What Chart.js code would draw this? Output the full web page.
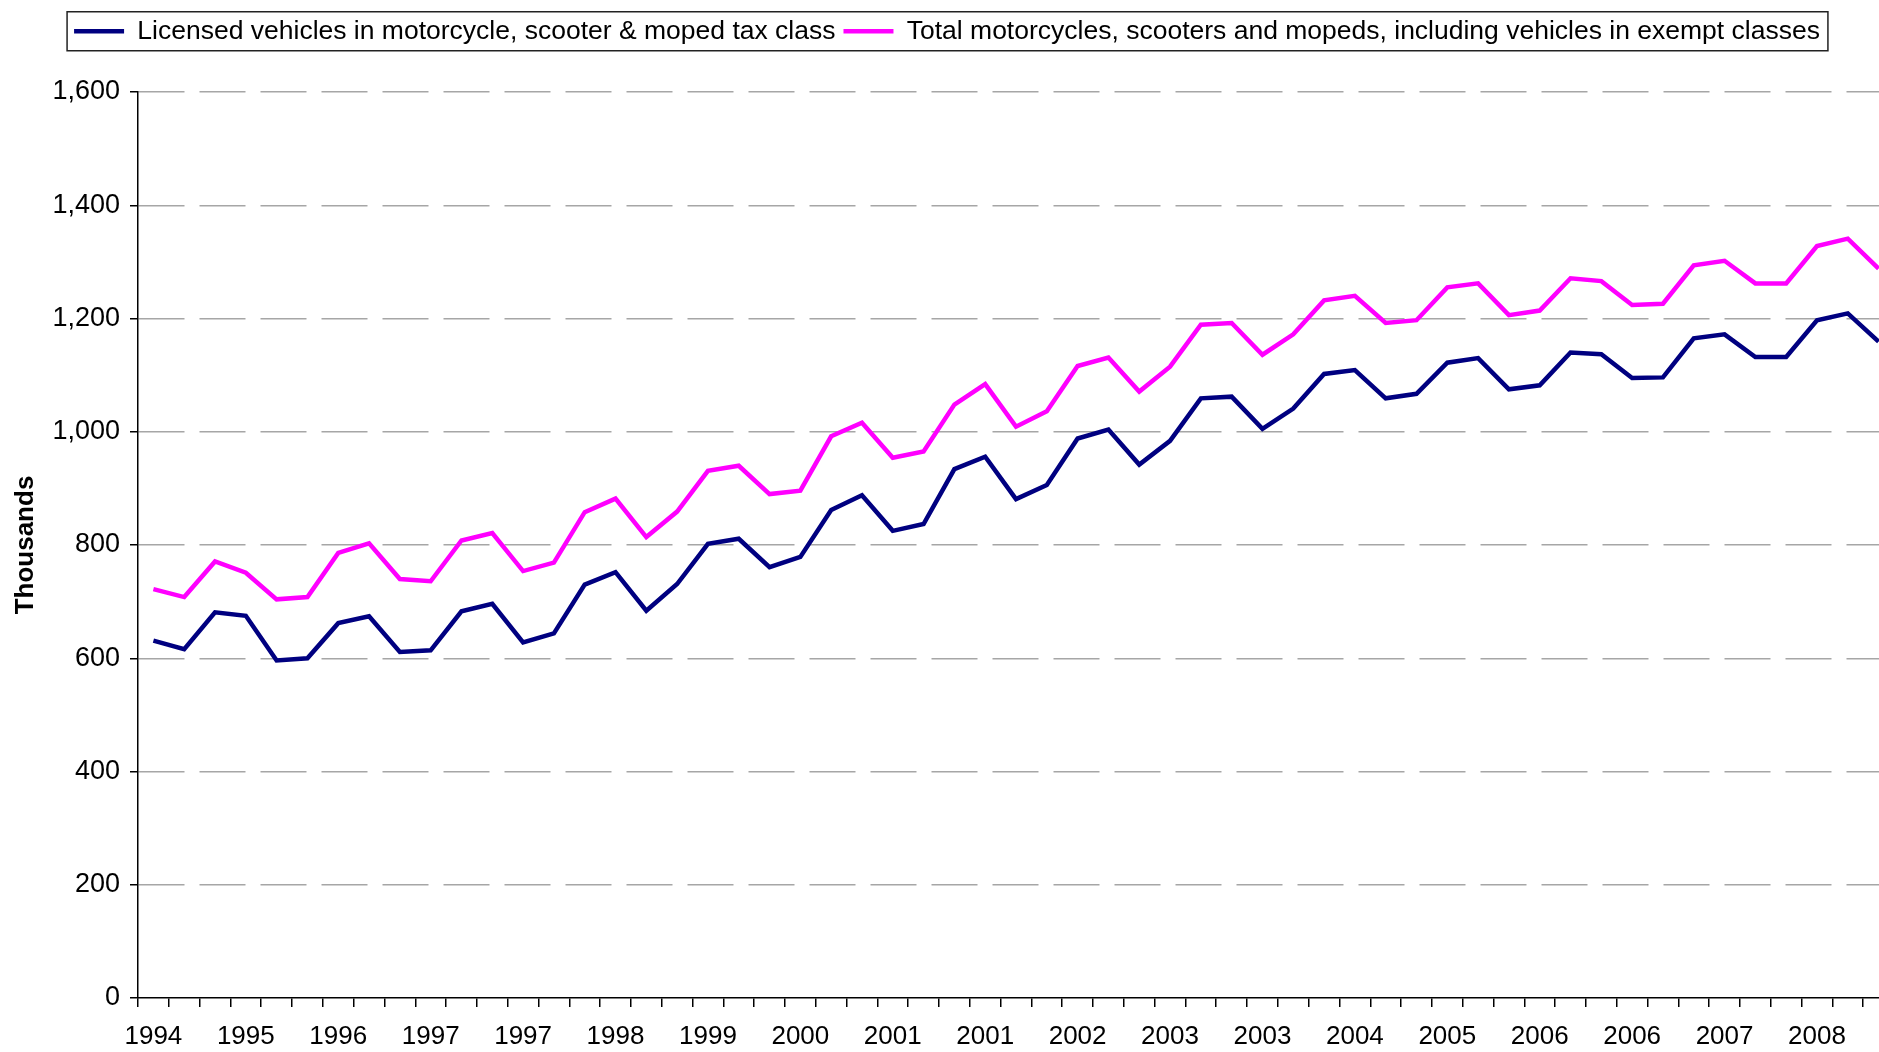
<!DOCTYPE html>
<html>
<head>
<meta charset="utf-8">
<script src="https://cdn.jsdelivr.net/npm/chart.js@4.4.0/dist/chart.umd.min.js"></script>
<style>
  html, body { margin: 0; padding: 0; background: #fff; overflow: hidden; }
  #wrap { position: relative; width: 1894px; height: 1052px; }
</style>
</head>
<body>
<div id="wrap"><canvas id="chart1"></canvas></div>
<script>
// year labels, one every third quarter
const tickLabels = ['1994','1995','1996','1997','1997','1998','1999','2000','2001','2001',
  '2002','2003','2003','2004','2005','2006','2006','2007','2008'];
const categories = tickLabels.flatMap(y => [y, '', '']);

// thousands of vehicles
const licensed = [631,616,681,675,596,600,662,674,611,614,683,696,628,644,
  730,752,684,731,802,811,761,779,862,888,825,837,934,956,881,
  906,988,1004,942,984,1059,1062,1005,1041,1102,1109,1059,1067,1122,
  1130,1075,1082,1140,1137,1095,1096,1165,1172,1132,1132,1197,1209,1159];
const totalIncExempt = [722,708,771,751,704,708,786,803,740,736,808,821,754,769,
  858,882,814,859,931,940,890,896,992,1016,954,965,1048,1084,1009,
  1036,1116,1131,1071,1115,1189,1192,1136,1172,1232,1240,1192,1197,1255,
  1262,1206,1214,1271,1266,1224,1226,1294,1302,1262,1262,1328,1341,1288];

const FONT = 'Liberation Sans, Arial, sans-serif';

// frame round the legend row, and extra room under it
const legendBox = {
  id: 'legendBox',
  beforeLayout(chart) {
    const lg = chart.legend;
    if (lg && !lg._tall) {
      const fit = lg.fit;
      lg.fit = function () { fit.call(this); this.height = 82; };
      lg._tall = true;
    }
  },
  afterDraw(chart) {
    const boxes = chart.legend.legendHitBoxes;
    if (!boxes || !boxes.length) return;
    const left = Math.min(...boxes.map(b => b.left)) - 7;
    const right = Math.max(...boxes.map(b => b.left + b.width)) + 8;
    const mid = boxes[0].top + boxes[0].height / 2;
    const ctx = chart.ctx;
    ctx.save();
    ctx.strokeStyle = '#222';
    ctx.lineWidth = 1.5;
    ctx.strokeRect(left, mid - 19.5, right - left, 39);
    ctx.restore();
  }
};

const ctx = document.getElementById('chart1').getContext('2d');
const MotoGraph = new Chart(ctx, {
  type: 'line',
  data: {
    labels: categories,
    datasets: [
      {
        label: 'Licensed vehicles in motorcycle, scooter & moped tax class',
        data: licensed,
        borderColor: '#000080',
        backgroundColor: '#000080',
        borderWidth: 4.5,
        pointRadius: 0,
        tension: 0,
        fill: false
      },
      {
        label: 'Total motorcycles, scooters and mopeds, including vehicles in exempt classes',
        data: totalIncExempt,
        borderColor: '#ff00ff',
        backgroundColor: '#ff00ff',
        borderWidth: 4.5,
        pointRadius: 0,
        tension: 0,
        fill: false
      }
    ]
  },
  options: {
    responsive: true,
    maintainAspectRatio: false,
    animation: false,
    layout: { padding: { top: 10, left: 0, right: 0, bottom: 0 } },
    plugins: {
      legend: {
        position: 'top',
        labels: {
          usePointStyle: true,
          pointStyle: 'line',
          pointStyleWidth: 50,
          color: '#000',
          font: { family: FONT, size: 26.5 },
          padding: 8
        }
      },
      tooltip: { enabled: false }
    },
    scales: {
      x: {
        offset: true,
        grid: {
          offset: true,
          drawOnChartArea: false,
          drawTicks: true,
          tickLength: 9,
          tickColor: '#000',
          lineWidth: 1.5
        },
        border: { color: '#000', width: 1.5 },
        ticks: {
          autoSkip: false,
          maxRotation: 0,
          color: '#000',
          font: { family: FONT, size: 26 },
          padding: 14,
          callback(v) { return this.getLabelForValue(v); }
        },
        afterFit(s) { s.height = 54; }
      },
      y: {
        min: 0,
        max: 1600,
        ticks: {
          stepSize: 200,
          color: '#000',
          font: { family: FONT, size: 27 },
          padding: 10,
          callback: v => v.toLocaleString('en-US')
        },
        grid: {
          color: c => (c.tick && c.tick.value === 0) ? 'rgba(0,0,0,0)' : '#a6a6a6',
          lineWidth: 1.5,
          tickColor: '#000',
          tickLength: 8
        },
        border: { color: '#000', width: 1.5, dash: [46, 15] },
        title: {
          display: true,
          text: 'Thousands',
          color: '#000',
          font: { family: FONT, size: 26, weight: 'bold' },
          padding: { top: 10, bottom: 0 }
        },
        afterFit(s) { s.width = 138; }
      }
    }
  },
  plugins: [legendBox]
});
</script>
</body>
</html>
